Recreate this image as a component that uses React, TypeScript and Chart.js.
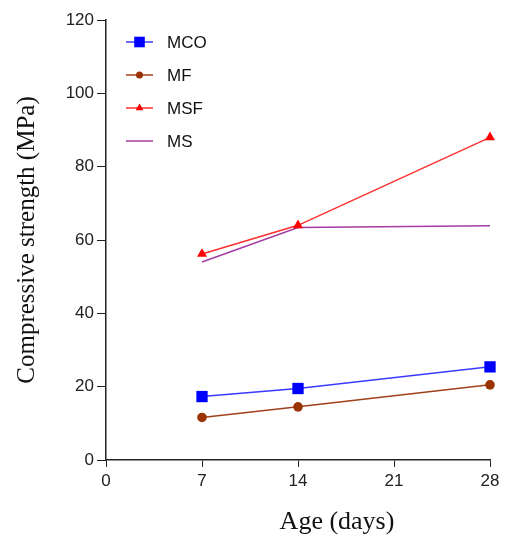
import React, { useEffect, useRef } from "react";
import { Chart, registerables } from "chart.js";

Chart.register(...registerables);

const ages = [7, 14, 28];
const mco = [17.3, 19.5, 25.4];
const mf = [11.6, 14.5, 20.5];
const msf = [56.2, 64.0, 88.0];
const ms = [54.0, 63.4, 63.9];
const seriesNames = ["MCO", "MF", "MSF", "MS"];
const xTicks = [0, 7, 14, 21, 28];
const yMax = 120;
const yStep = 20;
const yTitle = "Compressive strength (MPa)";
const xTitle = "Age (days)";

const colors = ["#0000FF", "#993300", "#FF0000", "#A33CA3"];
const lineColors = ["#3A3AFF", "#A0401A", "#FF3030", "#A33CA3"];
const styles: any[] = ["rect", "circle", "triangle", false];
const radii = [8, 4.8, 5.8, 0];

function pts(vals: number[]) {
  return ages.map((a, i) => ({ x: a, y: vals[i] }));
}

const SANS = "'Liberation Sans', Arial, sans-serif";
const SERIF = "'Liberation Serif', 'Times New Roman', serif";

function drawMarker(ctx: CanvasRenderingContext2D, style: any, x: number, y: number, r: number, color: string) {
  if (!style) return;
  ctx.save();
  ctx.fillStyle = color;
  ctx.beginPath();
  if (style === "rect") {
    const s = Math.SQRT1_2 * r;
    ctx.rect(x - s, y - s, 2 * s, 2 * s);
  } else if (style === "circle") {
    ctx.arc(x, y, r, 0, Math.PI * 2);
  } else if (style === "triangle") {
    let rad = 0;
    ctx.moveTo(x + Math.sin(rad) * r, y - Math.cos(rad) * r);
    rad += (2 * Math.PI) / 3;
    ctx.lineTo(x + Math.sin(rad) * r, y - Math.cos(rad) * r);
    rad += (2 * Math.PI) / 3;
    ctx.lineTo(x + Math.sin(rad) * r, y - Math.cos(rad) * r);
    ctx.closePath();
  }
  ctx.fill();
  ctx.restore();
}

const decorPlugin = {
  id: "decor",
  afterDraw(chart: any) {
    const ctx: CanvasRenderingContext2D = chart.ctx;
    const ca = chart.chartArea;
    // legend
    const legendR = [7.5, 3.5, 4.5, 0];
    const lx0 = ca.left + 20;
    const lx1 = ca.left + 47;
    const ly0 = ca.top + 22;
    const dy = 33;
    seriesNames.forEach((name, i) => {
      const y = ly0 + i * dy;
      ctx.save();
      ctx.strokeStyle = lineColors[i];
      ctx.lineWidth = 1.5;
      ctx.beginPath();
      ctx.moveTo(lx0, y);
      ctx.lineTo(lx1, y);
      ctx.stroke();
      ctx.restore();
      drawMarker(ctx, styles[i], (lx0 + lx1) / 2, y, legendR[i], colors[i]);
      ctx.save();
      ctx.fillStyle = "#111";
      ctx.font = `17px ${SANS}`;
      ctx.textAlign = "left";
      ctx.textBaseline = "middle";
      ctx.fillText(name, lx1 + 14, y + 1);
      ctx.restore();
    });
    // axis titles
    ctx.save();
    ctx.fillStyle = "#111";
    ctx.font = `25px ${SERIF}`;
    ctx.textAlign = "center";
    ctx.textBaseline = "middle";
    ctx.translate(27, (ca.top + ca.bottom) / 2);
    ctx.rotate(-Math.PI / 2);
    ctx.fillText(yTitle, 0, 0);
    ctx.restore();
    ctx.save();
    ctx.fillStyle = "#111";
    ctx.font = `26px ${SERIF}`;
    ctx.textAlign = "center";
    ctx.textBaseline = "middle";
    ctx.fillText(xTitle, ca.left + 231, ca.bottom + 62);
    ctx.restore();
  },
};

export default function App() {
  const ref = useRef<HTMLCanvasElement>(null);
  useEffect(() => {
    if (!ref.current) return;
    const data = [mco, mf, msf, ms];
    const chart = new Chart(ref.current, {
      type: "line",
      data: {
        datasets: seriesNames.map((name, i) => ({
          label: name,
          data: pts(data[i]),
          borderColor: lineColors[i],
          backgroundColor: colors[i],
          pointBackgroundColor: colors[i],
          pointBorderWidth: 0,
          pointStyle: styles[i],
          pointRadius: radii[i],
          borderWidth: 1.5,
          tension: 0,
          clip: false,
        })),
      },
      options: {
        animation: false,
        responsive: false,
        layout: { padding: { left: 0, right: 26, top: 20, bottom: 0 } },
        plugins: { legend: { display: false }, tooltip: { enabled: false } },
        scales: {
          x: {
            type: "linear",
            min: 0,
            max: 28,
            afterBuildTicks: (s: any) => {
              s.ticks = xTicks.map((v) => ({ value: v }));
            },
            afterFit: (s: any) => {
              s.height = 76;
            },
            ticks: { color: "#222", font: { family: SANS, size: 17 }, padding: 4 },
            grid: { drawOnChartArea: false, tickLength: 7, color: "#222" },
            border: { display: true, color: "#222", width: 1.5 },
          },
          y: {
            min: 0,
            max: yMax,
            ticks: { stepSize: yStep, color: "#222", font: { family: SANS, size: 17 }, padding: 3 },
            afterFit: (s: any) => {
              s.width = 106;
            },
            grid: { drawOnChartArea: false, tickLength: 9, color: "#222" },
            border: { display: true, color: "#222", width: 1.5 },
          },
        },
      },
      plugins: [decorPlugin],
    } as any);
    return () => chart.destroy();
  }, []);
  return (
    <div style={{ position: "absolute", left: 0, top: 0, width: 516, height: 536, background: "#fff" }}>
      <canvas ref={ref} width={516} height={536} style={{ width: 516, height: 536 }} />
    </div>
  );
}
